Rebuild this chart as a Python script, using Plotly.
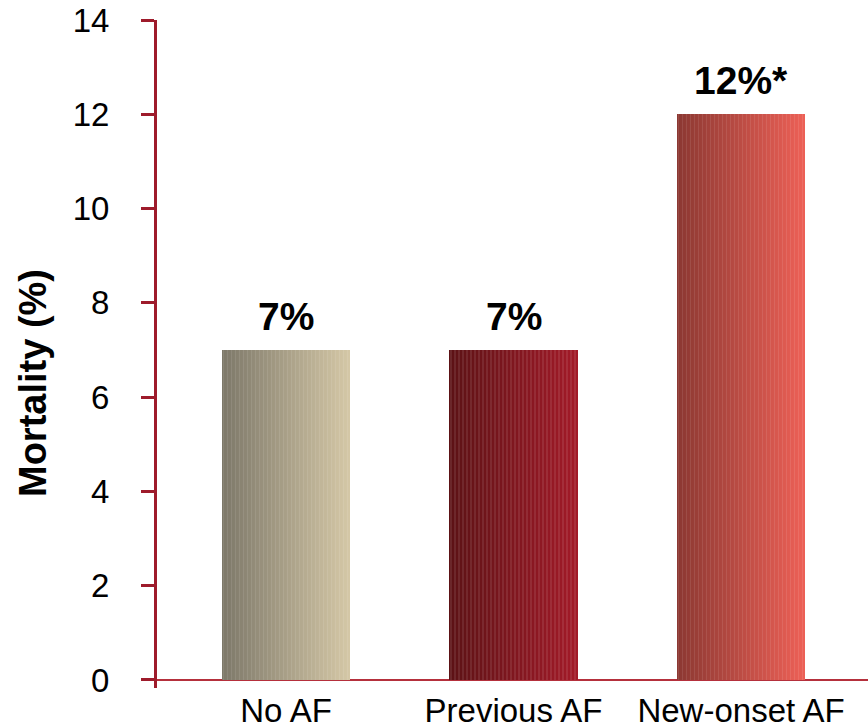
import plotly.graph_objects as go

categories = ["No AF", "Previous AF", "New-onset AF"]
mortality = [7, 7, 12]
bar_labels = ["7%", "7%", "12%*"]
y_ticks = [0, 2, 4, 6, 8, 10, 12, 14]

# gradient endpoints (left -> right) for each bar
left_colors = [(125, 120, 105), (92, 18, 21), (140, 56, 50)]
right_colors = [(212, 199, 166), (162, 26, 40), (236, 96, 86)]

FONT = "Liberation Sans, Arial, sans-serif"
AXIS_RED = "#9e1b2b"

bar_w = 0.5626
n_slices = 96
sw = bar_w / n_slices

def mix(a, b, t, lift):
    c = [a[k] + (b[k] - a[k]) * t for k in range(3)]
    c = [min(255, v + (255 - v) * lift) for v in c]
    return "rgb(%d,%d,%d)" % tuple(int(round(v)) for v in c)

fig = go.Figure()
for i in range(n_slices):
    t = i / (n_slices - 1)
    lift = 0.09 if (i % 3 == 1) else 0.0
    cols = [mix(left_colors[j], right_colors[j], t, lift) for j in range(len(categories))]
    fig.add_trace(go.Bar(
        x=categories, y=mortality,
        width=sw * 1.3 if i < n_slices - 1 else sw,
        offset=-bar_w / 2 + i * sw,
        marker=dict(color=cols, line=dict(width=0)),
        showlegend=False, hoverinfo="skip",
    ))

for c, v, lab in zip(categories, mortality, bar_labels):
    fig.add_annotation(x=c, y=v, text="<b>%s</b>" % lab, showarrow=False,
                       yanchor="bottom", yshift=10,
                       font=dict(family=FONT, size=39, color="black"))

fig.add_annotation(xref="paper", yref="paper", x=(33 - 157) / 711, y=(688 - 383) / 668,
                   text="<b>Mortality (%)</b>", textangle=-90, showarrow=False,
                   xanchor="center", yanchor="middle",
                   font=dict(family=FONT, size=38, color="black"))

fig.update_layout(
    width=868, height=728,
    margin=dict(l=157, r=0, t=20, b=40, autoexpand=False),
    plot_bgcolor="white", paper_bgcolor="white",
    barmode="overlay", bargap=0,
    font=dict(family=FONT, color="black"),
)
fig.update_xaxes(
    type="category", range=[-0.567, 2.558],
    showline=False, showgrid=False, zeroline=False,
    ticks="", tickfont=dict(family=FONT, size=33, color="black"),
    ticklabelstandoff=0, automargin=False,
)
fig.update_yaxes(
    range=[-0.17, 14], tickvals=y_ticks,
    showline=True, linecolor=AXIS_RED, linewidth=3,
    ticks="outside", tickcolor=AXIS_RED, ticklen=13, tickwidth=3,
    showgrid=False, zeroline=True, zerolinecolor="#b5303c", zerolinewidth=1.5,
    tickfont=dict(family=FONT, size=33, color="black"),
    ticklabelstandoff=25, automargin=False,
)

fig.write_html("out.html", config={"displayModeBar": False},
               post_script="document.body.style.margin='0';document.body.style.overflow='hidden';")
